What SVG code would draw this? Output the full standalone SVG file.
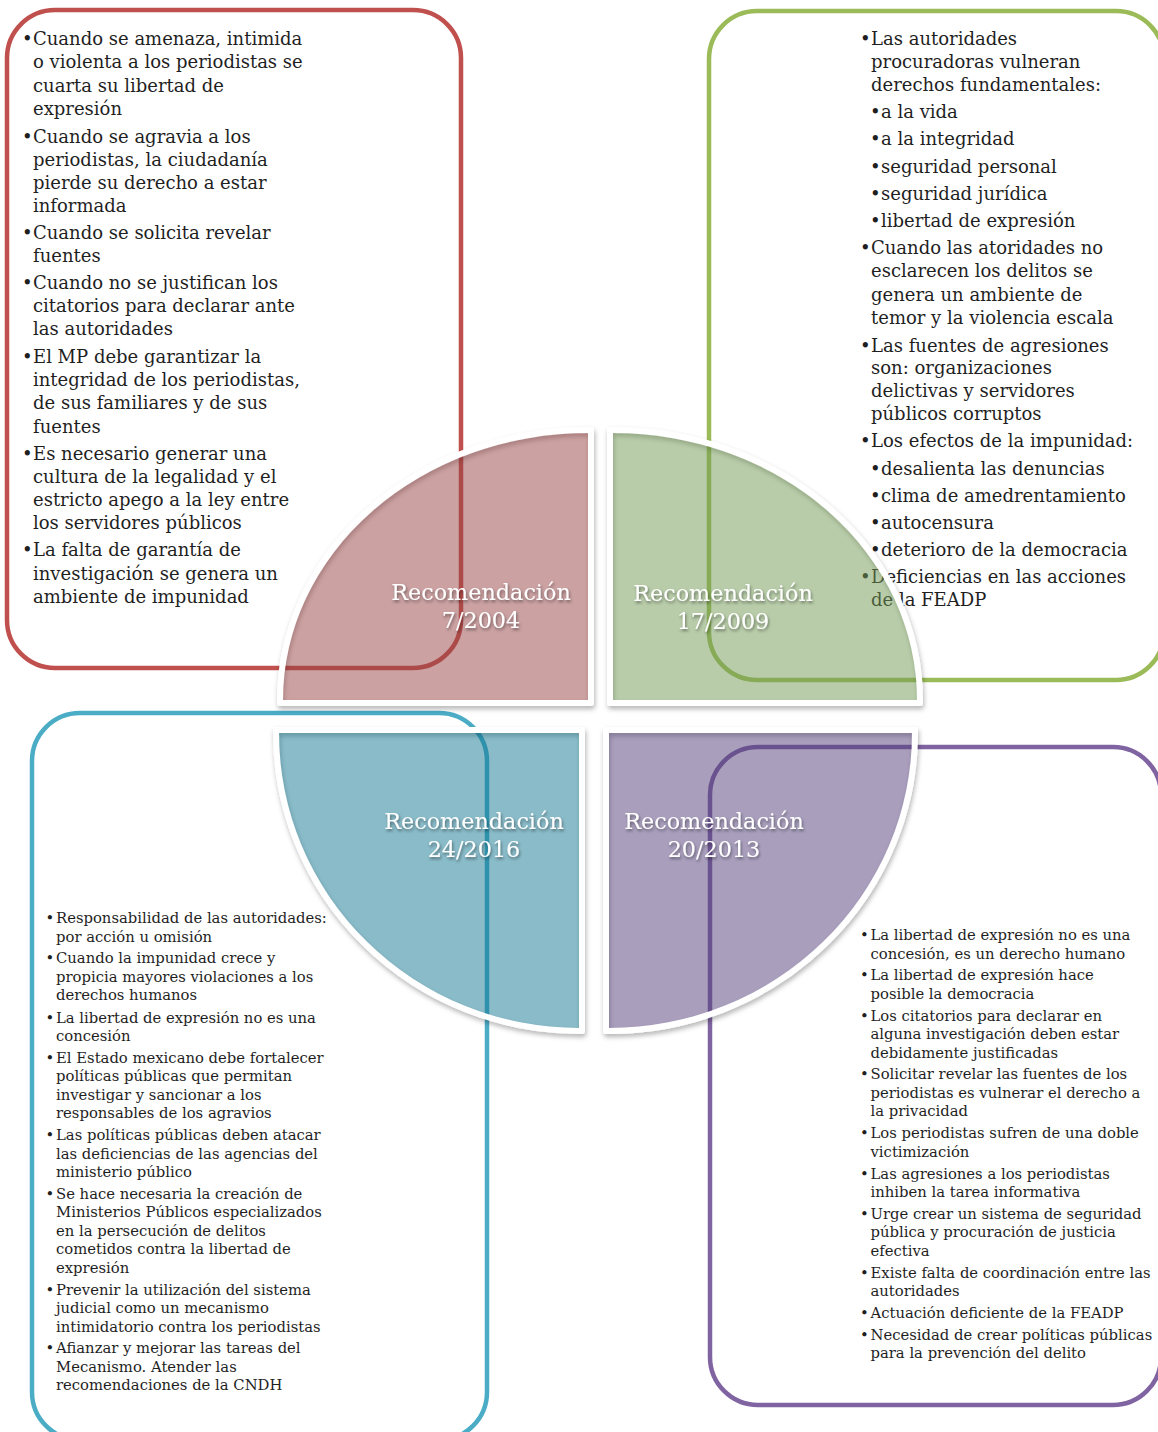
<svg xmlns="http://www.w3.org/2000/svg" width="1158" height="1432" viewBox="0 0 1158 1432">
<defs>
<style>
.box{fill:none;stroke-width:4.5}
.t1{font-family:"DejaVu Serif","Liberation Serif",serif;font-size:18px;fill:#1f1f1f}
.t2{font-family:"DejaVu Serif","Liberation Serif",serif;font-size:14.8px;fill:#1f1f1f}
.lbl{font-family:"DejaVu Serif","Liberation Serif",serif;font-size:22.3px;fill:#ffffff;text-anchor:middle;filter:url(#ts)}
.ring{fill:none;stroke:#ffffff;stroke-width:6;stroke-linejoin:round;filter:url(#ds)}
.pie{opacity:0.5}
</style>
<filter id="ds" x="-10%" y="-10%" width="120%" height="120%">
<feDropShadow dx="1" dy="3" stdDeviation="2.5" flood-color="#000" flood-opacity="0.3"/>
</filter>
<filter id="ts" x="-10%" y="-30%" width="120%" height="160%">
<feDropShadow dx="1" dy="2" stdDeviation="1.5" flood-color="#000" flood-opacity="0.45"/>
</filter>
</defs>
<rect width="1158" height="1432" fill="#ffffff"/>

<g id="box-7-2004">
<rect class="box" x="7" y="10" width="454" height="658" rx="48" stroke="#c0504d"/>
<g class="t1">
<text x="22" y="45">•</text><text x="33" y="45">Cuando se amenaza, intimida</text>
<text x="33" y="68">o violenta a los periodistas se</text>
<text x="33" y="91.5">cuarta su libertad de</text>
<text x="33" y="114.5">expresión</text>
<text x="22" y="142.5">•</text><text x="33" y="142.5">Cuando se agravia a los</text>
<text x="33" y="165.5">periodistas, la ciudadanía</text>
<text x="33" y="188.5">pierde su derecho a estar</text>
<text x="33" y="211.5">informada</text>
<text x="22" y="238.5">•</text><text x="33" y="238.5">Cuando se solicita revelar</text>
<text x="33" y="261.5">fuentes</text>
<text x="22" y="289">•</text><text x="33" y="289">Cuando no se justifican los</text>
<text x="33" y="312">citatorios para declarar ante</text>
<text x="33" y="335">las autoridades</text>
<text x="22" y="362.5">•</text><text x="33" y="362.5">El MP debe garantizar la</text>
<text x="33" y="386">integridad de los periodistas,</text>
<text x="33" y="409">de sus familiares y de sus</text>
<text x="33" y="432.5">fuentes</text>
<text x="22" y="459.5">•</text><text x="33" y="459.5">Es necesario generar una</text>
<text x="33" y="482.5">cultura de la legalidad y el</text>
<text x="33" y="506">estricto apego a la ley entre</text>
<text x="33" y="529">los servidores públicos</text>
<text x="22" y="556">•</text><text x="33" y="556">La falta de garantía de</text>
<text x="33" y="579.5">investigación se genera un</text>
<text x="33" y="602.5">ambiente de impunidad</text>
</g>
</g>

<g id="box-17-2009">
<rect class="box" x="709" y="11" width="455" height="669" rx="48" stroke="#9bbb59"/>
<g class="t1">
<text x="860" y="45">•</text><text x="871" y="45">Las autoridades</text>
<text x="871" y="68">procuradoras vulneran</text>
<text x="871" y="91">derechos fundamentales:</text>
<text x="870" y="118">•</text><text x="881" y="118">a la vida</text>
<text x="870" y="145">•</text><text x="881" y="145">a la integridad</text>
<text x="870" y="172.5">•</text><text x="881" y="172.5">seguridad personal</text>
<text x="870" y="199.5">•</text><text x="881" y="199.5">seguridad jurídica</text>
<text x="870" y="227">•</text><text x="881" y="227">libertad de expresión</text>
<text x="860" y="254">•</text><text x="871" y="254">Cuando las atoridades no</text>
<text x="871" y="277">esclarecen los delitos se</text>
<text x="871" y="300.5">genera un ambiente de</text>
<text x="871" y="324">temor y la violencia escala</text>
<text x="860" y="351.5">•</text><text x="871" y="351.5">Las fuentes de agresiones</text>
<text x="871" y="374">son: organizaciones</text>
<text x="871" y="397">delictivas y servidores</text>
<text x="871" y="419.5">públicos corruptos</text>
<text x="860" y="446.5">•</text><text x="871" y="446.5">Los efectos de la impunidad:</text>
<text x="870" y="474.5">•</text><text x="881" y="474.5">desalienta las denuncias</text>
<text x="870" y="501.5">•</text><text x="881" y="501.5">clima de amedrentamiento</text>
<text x="870" y="529">•</text><text x="881" y="529">autocensura</text>
<text x="870" y="556">•</text><text x="881" y="556">deterioro de la democracia</text>
<text x="860" y="583">•</text><text x="871" y="583">Deficiencias en las acciones</text>
<text x="871" y="606">de la FEADP</text>
</g>
</g>

<g id="box-24-2016">
<rect class="box" x="32" y="713" width="455" height="727" rx="48" stroke="#4bacc6"/>
<g class="t2">
<text x="45.5" y="923">•</text><text x="56" y="923">Responsabilidad de las autoridades:</text>
<text x="56" y="941.5">por acción u omisión</text>
<text x="45.5" y="963">•</text><text x="56" y="963">Cuando la impunidad crece y</text>
<text x="56" y="981.5">propicia mayores violaciones a los</text>
<text x="56" y="1000">derechos humanos</text>
<text x="45.5" y="1022.5">•</text><text x="56" y="1022.5">La libertad de expresión no es una</text>
<text x="56" y="1041">concesión</text>
<text x="45.5" y="1062.5">•</text><text x="56" y="1062.5">El Estado mexicano debe  fortalecer</text>
<text x="56" y="1081">políticas públicas que permitan</text>
<text x="56" y="1099.5">investigar y sancionar a los</text>
<text x="56" y="1118">responsables de los agravios</text>
<text x="45.5" y="1140">•</text><text x="56" y="1140">Las políticas públicas deben atacar</text>
<text x="56" y="1158.5">las deficiencias de las agencias del</text>
<text x="56" y="1177">ministerio público</text>
<text x="45.5" y="1198.5">•</text><text x="56" y="1198.5">Se hace necesaria la creación de</text>
<text x="56" y="1217">Ministerios Públicos especializados</text>
<text x="56" y="1235.5">en la persecución de delitos</text>
<text x="56" y="1254">cometidos contra la libertad de</text>
<text x="56" y="1272.5">expresión</text>
<text x="45.5" y="1294.5">•</text><text x="56" y="1294.5">Prevenir la utilización del sistema</text>
<text x="56" y="1313">judicial como un mecanismo</text>
<text x="56" y="1331.5">intimidatorio contra los periodistas</text>
<text x="45.5" y="1353">•</text><text x="56" y="1353">Afianzar y mejorar las tareas del</text>
<text x="56" y="1371.5">Mecanismo. Atender las</text>
<text x="56" y="1390">recomendaciones de la CNDH</text>
</g>
</g>

<g id="box-20-2013">
<rect class="box" x="710" y="747" width="451" height="658" rx="48" stroke="#8064a2"/>
<g class="t2">
<text x="860" y="940">•</text><text x="870.5" y="940">La libertad de expresión no es una</text>
<text x="870.5" y="958.5">concesión, es un derecho humano</text>
<text x="860" y="980">•</text><text x="870.5" y="980">La libertad de expresión hace</text>
<text x="870.5" y="998.5">posible la democracia</text>
<text x="860" y="1020.5">•</text><text x="870.5" y="1020.5">Los citatorios para declarar en</text>
<text x="870.5" y="1039">alguna investigación deben estar</text>
<text x="870.5" y="1057.5">debidamente justificadas</text>
<text x="860" y="1079">•</text><text x="870.5" y="1079">Solicitar revelar las fuentes de los</text>
<text x="870.5" y="1097.5">periodistas es vulnerar el derecho a</text>
<text x="870.5" y="1116">la privacidad</text>
<text x="860" y="1138">•</text><text x="870.5" y="1138">Los periodistas sufren de una doble</text>
<text x="870.5" y="1156.5">victimización</text>
<text x="860" y="1178.5">•</text><text x="870.5" y="1178.5">Las agresiones a los periodistas</text>
<text x="870.5" y="1197">inhiben la tarea informativa</text>
<text x="860" y="1218.5">•</text><text x="870.5" y="1218.5">Urge crear un sistema de seguridad</text>
<text x="870.5" y="1237">pública y procuración de justicia</text>
<text x="870.5" y="1255.5">efectiva</text>
<text x="860" y="1277.5">•</text><text x="870.5" y="1277.5">Existe falta de coordinación entre las</text>
<text x="870.5" y="1296">autoridades</text>
<text x="860" y="1317.5">•</text><text x="870.5" y="1317.5">Actuación deficiente de la FEADP</text>
<text x="860" y="1339.5">•</text><text x="870.5" y="1339.5">Necesidad de crear políticas públicas</text>
<text x="870.5" y="1358">para la prevención del delito</text>
</g>
</g>

<g id="pie-7-2004">
<path class="ring" d="M591,703 H280 V700 A308,270 0 0 1 588,430 H591 Z"/>
<path class="pie" fill="#974345" d="M588,700 H283 A305,267 0 0 1 588,433 Z"/>
<text class="lbl" x="481" y="600">Recomendación</text>
<text class="lbl" x="481" y="628">7/2004</text>
</g>
<g id="pie-17-2009">
<path class="ring" d="M610,703 V430 H613 A307,270 0 0 1 920,700 V703 Z"/>
<path class="pie" fill="#719953" d="M613,700 V433 A304,267 0 0 1 917,700 Z"/>
<text class="lbl" x="723" y="601">Recomendación</text>
<text class="lbl" x="723" y="629">17/2009</text>
</g>
<g id="pie-24-2016">
<path class="ring" d="M582,730 V1031 H579 A303,298 0 0 1 276,733 V730 Z"/>
<path class="pie" fill="#137791" d="M579,733 V1028 A300,295 0 0 1 279,733 Z"/>
<text class="lbl" x="474" y="829">Recomendación</text>
<text class="lbl" x="474" y="857">24/2016</text>
</g>
<g id="pie-20-2013">
<path class="ring" d="M606,730 H915 V733 A306,298 0 0 1 609,1031 H606 Z"/>
<path class="pie" fill="#533f7b" d="M609,733 H912 A303,295 0 0 1 609,1028 Z"/>
<text class="lbl" x="714" y="829">Recomendación</text>
<text class="lbl" x="714" y="857">20/2013</text>
</g>
<g id="connectors"/>
</svg>
